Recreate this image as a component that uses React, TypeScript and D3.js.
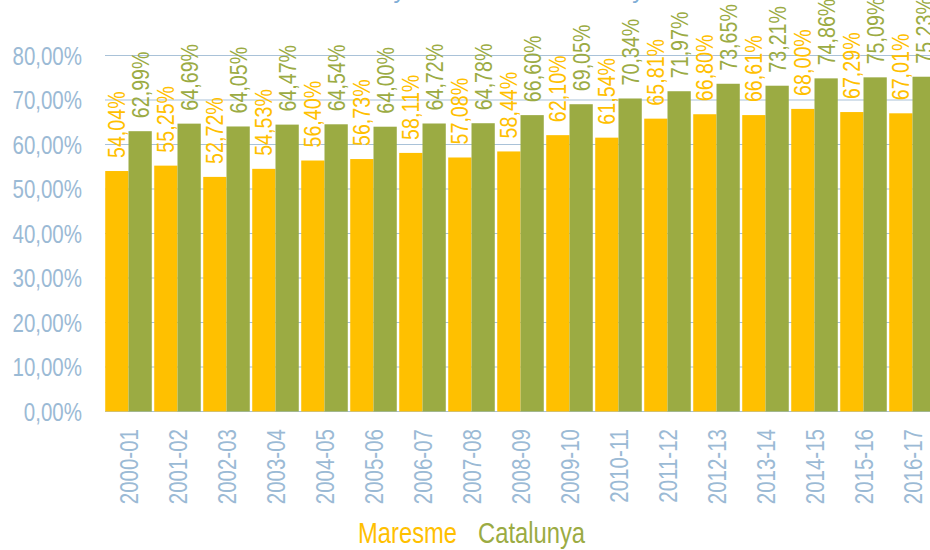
import React from "react";
import * as d3 from "d3";

const categories = ["2000-01","2001-02","2002-03","2003-04","2004-05","2005-06","2006-07","2007-08","2008-09","2009-10","2010-11","2011-12","2012-13","2013-14","2014-15","2015-16","2016-17"];
const maresme = [54.04,55.25,52.72,54.53,56.40,56.73,58.11,57.08,58.44,62.10,61.54,65.81,66.80,66.61,68.00,67.29,67.01];
const catalunya = [62.99,64.69,64.05,64.47,64.54,64.00,64.72,64.78,66.60,69.05,70.34,71.97,73.65,73.21,74.86,75.09,75.23];
const yTicks = [0,10,20,30,40,50,60,70,80];
const seriesNames = ["Maresme","Catalunya"];
const titleText = "Taxa d'escolarització als 16 i 17 anys. Maresme i Catalunya. Cursos 2000-01 a 2016-17";

const C_MAR = "#FFC000";
const C_CAT = "#9BAB43";
const C_AXIS = "#9BBAD5";
const C_GRID = "#A9C2D8";
const FONT = "'Liberation Sans', Arial, sans-serif";
const SX = 0.82;

const fmt = (v: number) => v.toFixed(2).replace(".", ",") + "%";

export default function App() {
  const W = 930, H = 550;
  const x = d3.scaleBand<string>().domain(categories).range([104, 104 + 17 * 49]).paddingInner(0.05).paddingOuter(0.025);
  const y = d3.scaleLinear().domain([0, 80]).range([411.5, 55.5]);
  const bw = x.bandwidth() / 2;
  const labelFs = 24;
  const cap = labelFs * 0.716;

  return (
    <svg width={W} height={H} style={{ position: "absolute", left: 0, top: 0, background: "#fff" }} fontFamily={FONT}>
      <text x={490} y={-2} textAnchor="middle" fontSize={24} fill="#7FAED6">{titleText}</text>
      {yTicks.map(t => (
        <g key={t}>
          <line x1={105} x2={W} y1={y(t)} y2={y(t)} stroke={C_GRID} strokeWidth={1.2} />
          <text transform={`translate(82,${y(t) + 9}) scale(${SX},1)`} textAnchor="end" fontSize={25} fill={C_AXIS}>{fmt(t)}</text>
        </g>
      ))}
      {categories.map((c, i) => {
        const x0 = x(c)!;
        const vals = [maresme[i], catalunya[i]];
        const cols = [C_MAR, C_CAT];
        return (
          <g key={c}>
            {vals.map((v, j) => {
              const bx = x0 + j * bw;
              const cx = bx + bw / 2;
              const ty = y(v) - 13;
              return (
                <g key={j}>
                  <rect x={bx} y={y(v)} width={bw} height={y(0) - y(v)} fill={cols[j]} />
                  <text transform={`translate(${cx + cap / 2},${ty}) rotate(-90) scale(${SX},1)`} fontSize={labelFs} fill={cols[j]}>{fmt(v)}</text>
                </g>
              );
            })}
            <text transform={`translate(${x0 + x.bandwidth() / 2 + 9},429) rotate(-90) scale(${SX},1)`} textAnchor="end" fontSize={25} fill={C_AXIS}>{c}</text>
          </g>
        );
      })}
      <text transform={`translate(358,543) scale(${SX},1)`} fontSize={29} fill={C_MAR}>{seriesNames[0]}</text>
      <text transform={`translate(478,543) scale(${SX},1)`} fontSize={29} fill={C_CAT}>{seriesNames[1]}</text>
    </svg>
  );
}
